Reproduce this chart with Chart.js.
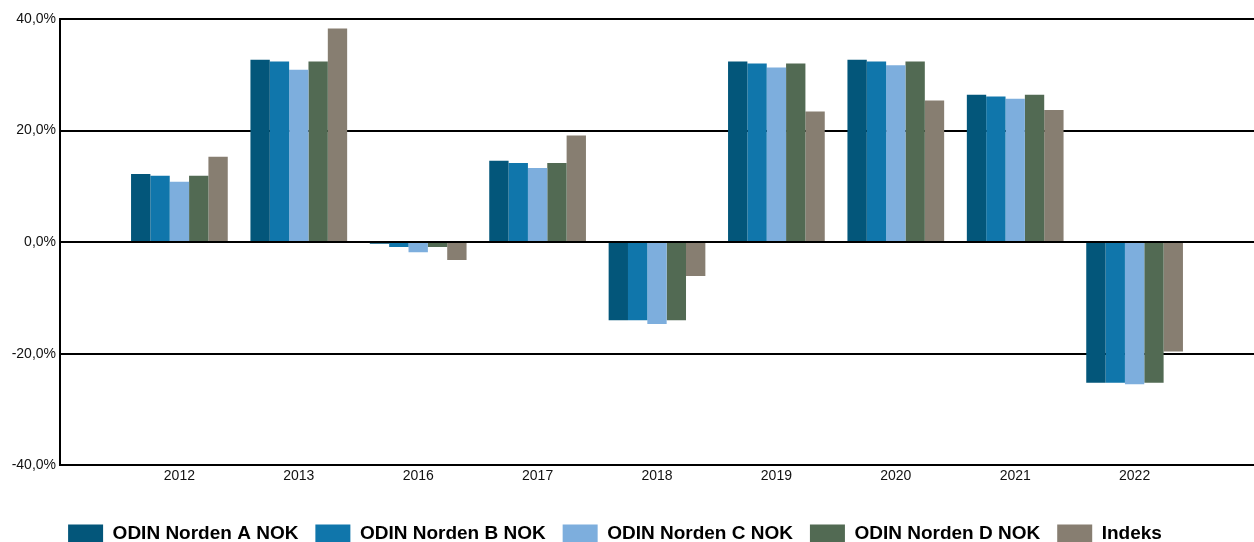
<!DOCTYPE html>
<html>
<head>
<meta charset="utf-8">
<script src="https://cdn.jsdelivr.net/npm/chart.js@4.4.1/dist/chart.umd.min.js"></script>
<style>
  html, body { margin: 0; padding: 0; background: #fff; }
  #wrap { width: 1254px; height: 542px; position: relative; }
</style>
</head>
<body>
<div id="wrap"><canvas id="c" width="1254" height="542"></canvas></div>
<script>
const categories = ['', '2012', '2013', '2016', '2017', '2018', '2019', '2020', '2021', '2022', ''];
const seriesNames = ['ODIN Norden A NOK', 'ODIN Norden B NOK', 'ODIN Norden C NOK', 'ODIN Norden D NOK', 'Indeks'];
const odinA  = [null, 12.2, 32.7, -0.3, 14.6, -14.0, 32.4, 32.7, 26.4, -25.2, null];
const odinB  = [null, 11.9, 32.4, -0.9, 14.2, -14.0, 32.0, 32.4, 26.1, -25.2, null];
const odinC  = [null, 10.8, 30.9, -1.8, 13.3, -14.7, 31.3, 31.7, 25.7, -25.5, null];
const odinD  = [null, 11.9, 32.4, -0.9, 14.2, -14.0, 32.0, 32.4, 26.4, -25.2, null];
const indeks = [null, 15.3, 38.3, -3.2, 19.1, -6.1, 23.4, 25.4, 23.7, -19.6, null];
const yTicks = [-40, -20, 0, 20, 40];
const colors = ['#03567a', '#1076ab', '#7daedd', '#526a53', '#877e71'];

const values = [odinA, odinB, odinC, odinD, indeks];
const datasets = values.map((v, i) => ({
  label: seriesNames[i],
  data: v,
  backgroundColor: colors[i],
  borderWidth: 0,
  barPercentage: 1.0,
  categoryPercentage: 0.81
}));

const FONT = "'Liberation Sans', Arial, sans-serif";

const shiftLegend = {
  id: 'shiftLegend',
  afterLayout(chart) {
    const lg = chart.legend;
    if (lg) { lg.left -= 12; lg.right -= 12; }
  }
};

new Chart(document.getElementById('c'), {
  type: 'bar',
  data: { labels: categories, datasets },
  plugins: [shiftLegend],
  options: {
    responsive: false,
    animation: false,
    events: [],
    layout: { padding: { top: 19, right: 0, left: 0, bottom: -11 } },
    plugins: {
      tooltip: { enabled: false },
      legend: {
        position: 'bottom',
        align: 'center',
        labels: {
          boxWidth: 35,
          boxHeight: 18,
          padding: 17,
          color: '#000',
          font: { family: FONT, size: 19, weight: 'bold' }
        }
      }
    },
    scales: {
      x: {
        offset: false,
        afterFit: s => { s.height = s.height + 19; s.paddingRight = 0; s.paddingLeft = 0; },
        grid: { display: false, drawTicks: false },
        border: { display: true, color: '#000', width: 2 },
        ticks: {
          autoSkip: false, maxRotation: 0, minRotation: 0,
          color: '#111', padding: 3,
          font: { family: FONT, size: 14 }
        }
      },
      y: {
        min: -40, max: 40,
        afterFit: s => { s.width = 60; },
        afterBuildTicks: s => { s.ticks = yTicks.map(v => ({ value: v })); },
        grid: { color: '#000', lineWidth: 2, drawTicks: false },
        border: { display: true, color: '#000', width: 2 },
        ticks: {
          color: '#111', padding: 4,
          font: { family: FONT, size: 14 },
          callback: v => v.toFixed(1).replace('.', ',') + '%'
        }
      }
    }
  }
});
</script>
</body>
</html>
